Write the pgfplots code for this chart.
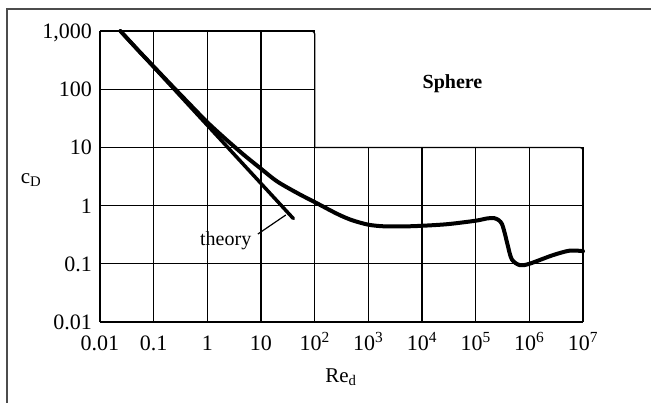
\documentclass[border=0pt]{standalone}
\usepackage{fontspec}
\setmainfont{Liberation Serif}
\usepackage{pgfplots}
\pgfplotsset{compat=1.18}
\begin{document}
\begin{tikzpicture}
\useasboundingbox (-100bp,-81bp) rectangle (551bp,322bp);
% outer frame (only top and left edges show)
\draw[line width=2.5bp, black!70] (-93bp,-81bp) -- (-93bp,313bp) -- (551bp,313bp);
\begin{axis}[
at={(0,0)}, anchor=south west,
scale only axis, width=483bp, height=291bp,
xmode=log, ymode=log,
xmin=0.01, xmax=1e7, ymin=0.01, ymax=1000,
xtick={0.01,0.1,1,10,100,1000,10000,100000,1000000,10000000},
xticklabels={0.01,0.1,1,10,10\textsuperscript{2},10\textsuperscript{3},10\textsuperscript{4},10\textsuperscript{5},10\textsuperscript{6},10\textsuperscript{7}},
ytick={0.01,0.1,1,10,100,1000},
yticklabels={0.01,0.1,1,10,100,{1,000}},
xminorticks=false, yminorticks=false,
major tick length=0pt,
grid=major,
major grid style={black, line width=1.3bp},
axis line style={draw=none},
clip=false,
tick label style={font=\fontsize{22bp}{26bp}\selectfont, inner sep=0pt},
xticklabel style={anchor=base, yshift=-28bp},
yticklabel style={anchor=base east, xshift=-8bp, yshift=-7.5bp},
]
% blank corner behind the "Sphere" caption
\addplot[draw=none, fill=white] coordinates {(100,10) (1.3e7,10) (1.3e7,1300) (100,1300)} -- cycle;
\addplot[black, line width=1.3bp, rounded corners=3bp] coordinates {(50,1000) (100,1000) (100,10)};
\addplot[black, line width=1.3bp, rounded corners=3bp] coordinates {(100,10) (1e7,10) (1e7,5)};

% Stokes theory, 24/Re
\addplot[black, line width=3.5bp, line cap=round] coordinates {(0.024,1000) (40,0.6)};

% measured drag coefficient
\addplot[black, line width=4bp, smooth, tension=0.5, line cap=round] coordinates {
(0.024,1000)
(0.05,480)
(0.1,245)
(0.2,125)
(0.5,52)
(1,27)
(2,15)
(3,10.8)
(5,7.2)
(10,4.3)
(20,2.6)
(50,1.6)
(100,1.15)
(200,0.82)
(300,0.68)
(500,0.56)
(1000,0.47)
(2000,0.44)
(5000,0.44)
(1e4,0.45)
(3e4,0.48)
(1e5,0.55)
(1.6e5,0.6)
(2.2e5,0.61)
(2.7e5,0.56)
(3.1e5,0.48)
(3.5e5,0.33)
(3.9e5,0.22)
(4.7e5,0.12)
(6.6e5,0.095)
(1e6,0.1)
(2.7e6,0.14)
(5.6e6,0.168)
(1e7,0.165)
};

\node[font=\fontsize{20bp}{24bp}\selectfont, inner sep=0pt] at (axis cs:2.2,0.247) {theory};
\draw[black, line width=1.2bp] (axis cs:8.75,0.325) -- (axis cs:29,0.69);
\node[font=\fontsize{20bp}{24bp}\selectfont\bfseries, inner sep=0pt] at (axis cs:3.7e4,123) {Sphere};
\end{axis}
\node[font=\fontsize{21bp}{25bp}\selectfont, inner sep=0pt] at (-69bp,142bp) {c\textsubscript{D}};
\node[font=\fontsize{21bp}{25bp}\selectfont, inner sep=0pt] at (241bp,-55bp) {Re\textsubscript{d}};
\end{tikzpicture}
\end{document}
